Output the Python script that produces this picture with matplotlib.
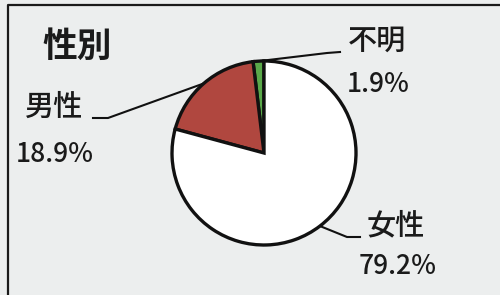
import numpy as np
import matplotlib
matplotlib.use("Agg")
import matplotlib.pyplot as plt

plt.rcParams['font.family'] = ['Noto Sans CJK JP', 'DejaVu Sans']

title = "性別"
labels = ["不明", "男性", "女性"]
shares = [1.9, 18.9, 79.2]
pct_labels = ["1.9%", "18.9%", "79.2%"]
colors = ["#5aa94a", "#b0473f", "#ffffff"]

W, H = 500, 295
fig = plt.figure(figsize=(5, 2.95), dpi=100)
fig.patch.set_facecolor("#eceeee")
ax = fig.add_axes([0, 0, 1, 1])
ax.set_xlim(0, W)
ax.set_ylim(H, 0)
ax.axis("off")

# frame (right / bottom edge run off the picture)
ax.plot([8, 8, W + 5], [H + 5, 5, 5], color="#1a1a1a", lw=1.6)

cx, cy, r = 264, 153, 92
pax = fig.add_axes([0, 0, 1, 1])
wedges, _ = pax.pie(shares, colors=colors, startangle=90, counterclock=True,
                    center=(cx, H - cy), radius=r, frame=True,
                    wedgeprops=dict(edgecolor="#111111", linewidth=2.4))
pax.set_xlim(0, W)
pax.set_ylim(0, H)
pax.axis("off")

# leader lines from wedge midpoints
elbows = [((327, 53), (340, 52)), ((108, 118), (93, 118)), ((347, 237), (360, 237))]
for w, (e1, e2) in zip(wedges, elbows):
    a = np.deg2rad((w.theta1 + w.theta2) / 2)
    px, py = cx + r * np.cos(a), cy - r * np.sin(a)
    ax.plot([px, e1[0], e2[0]], [py, e1[1], e2[1]], color="#111111", lw=1.5)

ax.text(77, 46, title, fontsize=25, fontweight="bold", ha="center", va="center", color="#1a1a1a")

name_pos = [(377, 41), (54, 107), (396, 226)]
pct_pos = [(378, 85), (55, 154), (398, 267)]
for lab, pl, (nx, ny), (qx, qy) in zip(labels, pct_labels, name_pos, pct_pos):
    ax.text(nx, ny, lab, fontsize=21, fontweight="medium", ha="center", va="center", color="#1a1a1a")
    ax.text(qx, qy, pl, fontsize=19, fontweight="medium", ha="center", va="center", color="#1a1a1a")

fig.savefig("out.png", dpi=100, facecolor=fig.get_facecolor())
